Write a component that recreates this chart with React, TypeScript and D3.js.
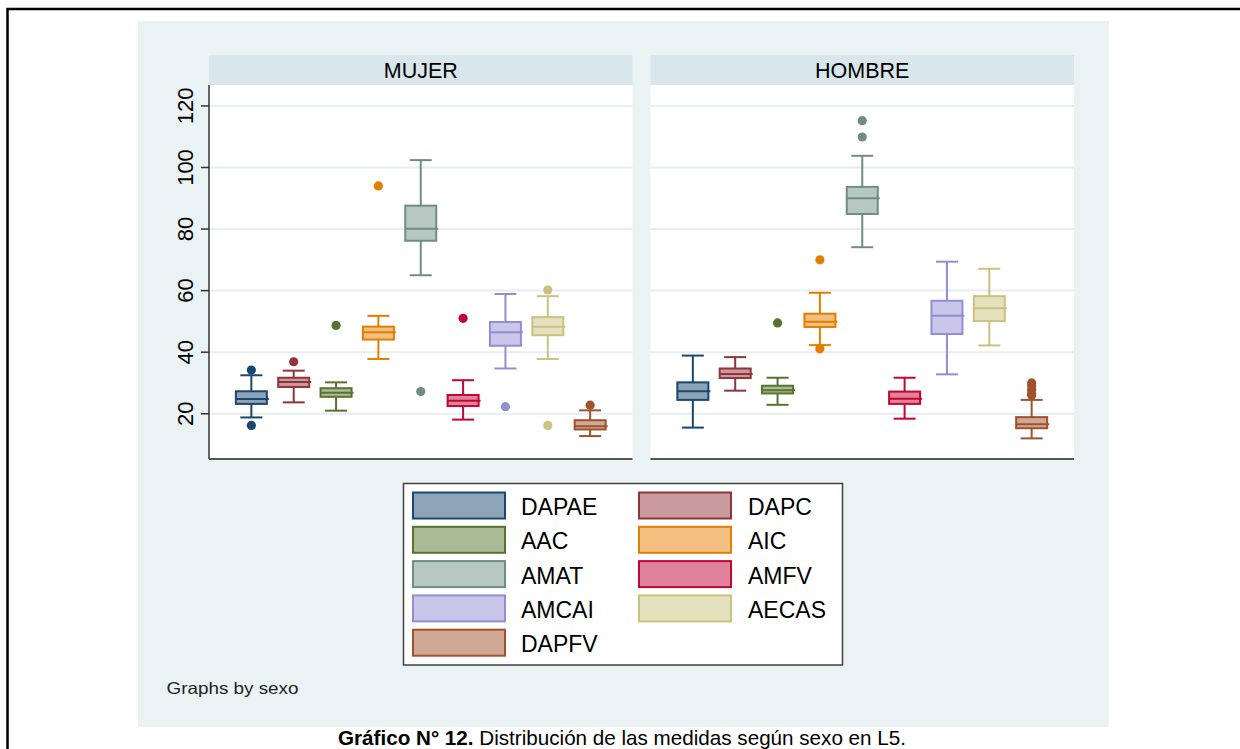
import React from "react";
import * as d3 from "d3";

const variables = ["DAPAE", "DAPC", "AAC", "AIC", "AMAT", "AMFV", "AMCAI", "AECAS", "DAPFV"];
const panels = ["MUJER", "HOMBRE"];
const yTicks = [20, 40, 60, 80, 100, 120];

const lineColors = ["#1a476f", "#90353b", "#55752f", "#e37e00", "#6e8e84", "#c10534", "#938dd2", "#cac27e", "#a0522d"];
const fillColors = ["#8da3b7", "#c89a9d", "#aaba97", "#f1bf80", "#b7c7c2", "#e0829a", "#c9c6e9", "#e5e1bf", "#d0a996"];

// MUJER
const mujerLow = [18.8, 23.7, 21.0, 37.8, 65.0, 18.1, 34.7, 37.8, 12.75];
const mujerQ1 = [23.2, 28.7, 25.5, 44.1, 76.2, 22.5, 42.1, 45.5, 14.9];
const mujerMed = [24.8, 30.3, 26.8, 46.5, 80.1, 24.2, 46.5, 48.3, 15.9];
const mujerQ3 = [27.3, 31.7, 28.3, 48.3, 87.6, 26.1, 49.8, 51.4, 17.9];
const mujerHigh = [32.5, 34.0, 30.2, 51.8, 102.4, 30.9, 58.9, 58.2, 21.1];
const mujerOut = [[34.2, 16.2], [36.9], [48.7], [94.0], [27.2], [51.0], [22.3], [60.2, 16.2], [22.8]];

// HOMBRE
const hombreLow = [15.5, 27.5, 22.9, 42.3, 74.1, 18.4, 32.8, 42.2, 12.0];
const hombreQ1 = [24.5, 31.6, 26.6, 48.2, 84.9, 23.2, 45.9, 50.1, 15.3];
const hombreMed = [27.3, 32.9, 27.6, 49.9, 90.0, 24.9, 51.8, 54.3, 16.6];
const hombreQ3 = [30.2, 34.7, 29.1, 52.5, 93.7, 27.2, 56.7, 58.2, 18.9];
const hombreHigh = [38.9, 38.4, 31.7, 59.3, 103.8, 31.7, 69.4, 67.1, 24.5];
const hombreOut = [[], [], [49.5], [70.0, 41.1], [115.2, 109.9], [], [], [], [30.0, 29.0, 27.8, 26.6, 26.0]];

const panelData = [
  { low: mujerLow, q1: mujerQ1, med: mujerMed, q3: mujerQ3, high: mujerHigh, out: mujerOut },
  { low: hombreLow, q1: hombreQ1, med: hombreMed, q3: hombreQ3, high: hombreHigh, out: hombreOut },
];

const FONT = "'Liberation Sans', Arial, Helvetica, sans-serif";

export default function App() {
  const W = 1240, H = 749;
  const plotTop = 85, plotBottom = 459, headerTop = 55;
  const panelX: [number, number][] = [[209, 632.5], [650.5, 1074]];
  const y = d3.scaleLinear().domain([5.3, 126.8]).range([plotBottom, plotTop]);
  const boxW = 31, capW = 22;

  const legendRows = [];
  for (let i = 0; i < variables.length; i++) legendRows.push(i);

  return (
    <div style={{ position: "absolute", left: 0, top: 0 }}>
      <svg width={W} height={H} style={{ display: "block", fontFamily: FONT }}>
        <rect x={0} y={0} width={W} height={H} fill="#ffffff" />
        <rect x={7.5} y={9} width={1300} height={900} fill="none" stroke="#000" strokeWidth={2.5} />
        <rect x={138} y={21} width={971} height={706} fill="#eaf2f3" />

        {panels.map((p, pi) => {
          const [x0, x1] = panelX[pi];
          const x = d3.scalePoint<string>().domain(variables).range([x0, x1]).padding(1);
          const d = panelData[pi];
          return (
            <g key={p}>
              <rect x={x0} y={headerTop} width={x1 - x0} height={plotTop - headerTop} fill="#d9e6eb" />
              <text x={(x0 + x1) / 2} y={77.5} textAnchor="middle" fontSize={21.5} fill="#000">{p}</text>
              <rect x={x0} y={plotTop} width={x1 - x0} height={plotBottom - plotTop} fill="#ffffff" />
              {yTicks.map((t) => (
                <line key={t} x1={x0} x2={x1} y1={y(t)} y2={y(t)} stroke="#e6eef1" strokeWidth={2} />
              ))}
              {variables.map((v, i) => {
                const cx = x(v) as number;
                const lc = lineColors[i];
                return (
                  <g key={v}>
                    <line x1={cx} x2={cx} y1={y(d.q3[i])} y2={y(d.high[i])} stroke={lc} strokeWidth={2} />
                    <line x1={cx} x2={cx} y1={y(d.q1[i])} y2={y(d.low[i])} stroke={lc} strokeWidth={2} />
                    <line x1={cx - capW / 2} x2={cx + capW / 2} y1={y(d.high[i])} y2={y(d.high[i])} stroke={lc} strokeWidth={2} />
                    <line x1={cx - capW / 2} x2={cx + capW / 2} y1={y(d.low[i])} y2={y(d.low[i])} stroke={lc} strokeWidth={2} />
                    <rect x={cx - boxW / 2} y={y(d.q3[i])} width={boxW} height={y(d.q1[i]) - y(d.q3[i])} fill={fillColors[i]} stroke={lc} strokeWidth={2} />
                    <line x1={cx - boxW / 2} x2={cx + boxW / 2 + 2} y1={y(d.med[i])} y2={y(d.med[i])} stroke={lc} strokeWidth={2} />
                    {d.out[i].map((o, k) => (
                      <circle key={k} cx={cx} cy={y(o)} r={4.6} fill={lc} />
                    ))}
                  </g>
                );
              })}
              <line x1={x0} x2={x1} y1={plotBottom} y2={plotBottom} stroke="#555" strokeWidth={2} />
              {pi === 0 && (
                <g>
                  <line x1={x0} x2={x0} y1={plotTop} y2={plotBottom} stroke="#333" strokeWidth={1.5} />
                  {yTicks.map((t) => (
                    <g key={t}>
                      <line x1={x0 - 8} x2={x0} y1={y(t)} y2={y(t)} stroke="#333" strokeWidth={1.5} />
                      <text
                        transform={`translate(193,${y(t)}) rotate(-90)`}
                        textAnchor="middle"
                        fontSize={22}
                        fill="#000"
                      >
                        {t}
                      </text>
                    </g>
                  ))}
                </g>
              )}
            </g>
          );
        })}

        {/* Legend */}
        <rect x={403.5} y={483.5} width={439} height={181.5} fill="#fff" stroke="#404040" strokeWidth={1.5} />
        {legendRows.map((i) => {
          const col = i % 2;
          const row = Math.floor(i / 2);
          const sx = col === 0 ? 413 : 639;
          const lx = col === 0 ? 521 : 748;
          const sy = 492.5 + row * 34.3;
          return (
            <g key={variables[i]}>
              <rect x={sx} y={sy} width={92} height={26} fill={fillColors[i]} stroke={lineColors[i]} strokeWidth={2} />
              <text x={lx} y={sy + 22.5} fontSize={23} fill="#000">{variables[i]}</text>
            </g>
          );
        })}

        <text x={166.5} y={693.5} fontSize={16.5} fill="#222" textLength={132} lengthAdjust="spacingAndGlyphs">Graphs by sexo</text>

        <text x={338} y={745} fontSize={20.4} fill="#000" textLength={568} lengthAdjust="spacingAndGlyphs">
          <tspan fontWeight="bold">Gráfico N° 12.</tspan>
          <tspan> Distribución de las medidas según sexo en L5.</tspan>
        </text>
      </svg>
    </div>
  );
}
